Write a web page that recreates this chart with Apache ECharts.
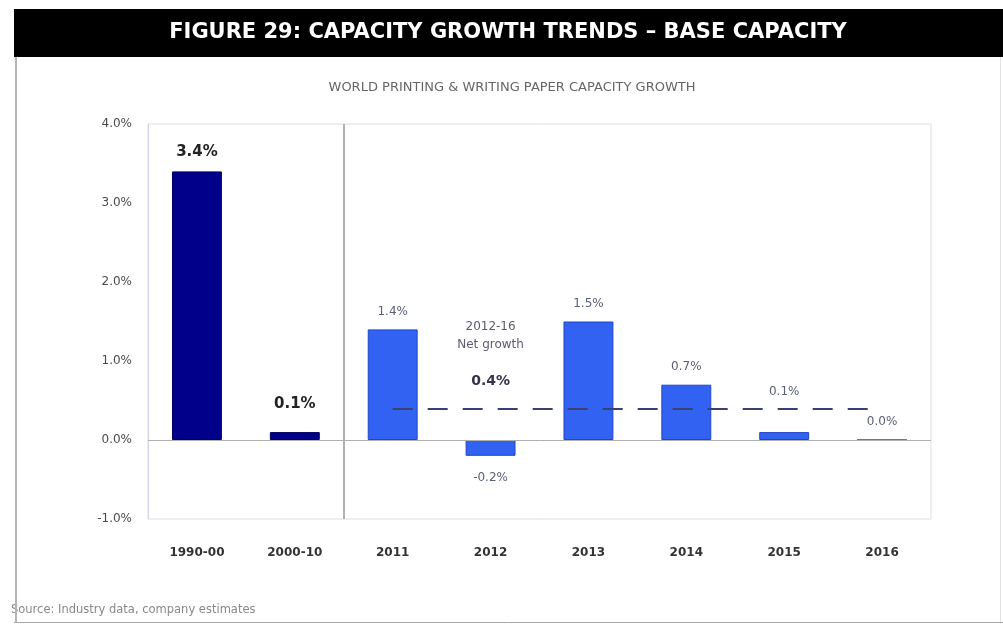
<!DOCTYPE html>
<html>
<head>
<meta charset="utf-8">
<script src="https://cdn.jsdelivr.net/npm/echarts@6/dist/echarts.min.js"></script>
<style>
  html, body { margin: 0; padding: 0; background: #ffffff; }
  #chart { width: 1003px; height: 624px; }
</style>
</head>
<body>
<div id="chart"></div>
<script>
// Annual capacity growth, % per year
const categories = ['1990-00', '2000-10', '2011', '2012', '2013', '2014', '2015', '2016'];
const growth = [3.4, 0.1, 1.4, -0.2, 1.5, 0.7, 0.1, 0.0];
const historicalCount = 2;           // first two bars are period averages

// Average net growth over the forecast years
const netGrowth = 0.4;
const netGrowthFrom = '2011';
const netGrowthTo = '2016';
const netGrowthNote = ['2012-16', 'Net growth'];

// Value axis
const axisMin = -1;
const axisMax = 4;
const axisStep = 1;

const titleText = 'FIGURE 29: CAPACITY GROWTH TRENDS \u2013 BASE CAPACITY';
const subtitleText = 'WORLD PRINTING & WRITING PAPER CAPACITY GROWTH';
const sourceText = 'Source: Industry data, company estimates';

const NAVY = '#00008a';
const BLUE = '#3162f2';
const FONT = 'DejaVu Sans, Verdana, sans-serif';
const pct = v => v.toFixed(1) + '%';

// extra lift for a few value labels so they clear the average line
const labelLift = { '2000-10': 8, '2015': 22 };

const barData = growth.map((v, i) => {
  const hist = i < historicalCount;
  const lift = labelLift[categories[i]] || 0;
  return {
    value: v,
    itemStyle: { color: hist ? NAVY : BLUE, borderColor: hist ? '#000060' : '#2244c8', borderWidth: 1 },
    label: {
      show: true,
      position: v < 0 ? 'bottom' : 'top',
      distance: v < 0 ? 16 : 12 + lift,
      formatter: p => pct(p.value),
      fontFamily: FONT,
      fontSize: hist ? 15 : 12,
      fontWeight: hist ? 'bold' : 'normal',
      color: hist ? '#222' : '#5a5f78'
    }
  };
});

const chart = echarts.init(document.getElementById('chart'), null, { renderer: 'canvas' });

chart.setOption({
  animation: false,
  backgroundColor: '#ffffff',
  textStyle: { fontFamily: FONT },
  grid: {
    left: 148, right: 72, top: 124, bottom: 105,
    show: true, borderColor: '#dedede', borderWidth: 1, backgroundColor: 'transparent'
  },
  xAxis: [
    {
      type: 'category',
      data: categories,
      axisLine: { show: false, onZero: false },
      axisTick: { show: false },
      axisLabel: { margin: 28, fontFamily: FONT, fontSize: 12, fontWeight: 'bold', color: '#333' },
      splitLine: { show: false }
    },
    {
      // hidden band-index axis, used to place the divider between history and forecast
      type: 'value',
      min: 0, max: categories.length,
      show: false
    }
  ],
  yAxis: {
    type: 'value',
    min: axisMin, max: axisMax, interval: axisStep,
    axisLine: { show: true, lineStyle: { color: '#d4d4e4' } },
    axisTick: { show: false },
    splitLine: { show: false },
    axisLabel: { margin: 16, formatter: v => pct(v), fontFamily: FONT, fontSize: 12, color: '#4a4a4a' }
  },
  series: [
    {
      type: 'bar',
      data: barData,
      barWidth: '51%',
      markLine: {
        silent: true,
        symbol: 'none',
        label: { show: false },
        data: [
          { yAxis: 0, lineStyle: { color: '#b0b0b0', width: 1, type: 'solid' } },
          [
            { coord: [netGrowthFrom, netGrowth], lineStyle: { color: '#3b3f72', width: 2, type: [20, 15] } },
            { coord: [netGrowthTo, netGrowth] }
          ]
        ]
      },
      markPoint: {
        silent: true,
        symbol: 'circle',
        symbolSize: 1,
        itemStyle: { color: 'rgba(0,0,0,0)' },
        data: [{
          coord: ['2012', netGrowth],
          label: {
            show: true,
            position: 'top',
            distance: 18,
            formatter: '{a|' + netGrowthNote[0] + '}\n{a|' + netGrowthNote[1] + '}\n{gap| }\n{v|' + pct(netGrowth) + '}',
            rich: {
              a: { fontFamily: FONT, fontSize: 12, color: '#5c5c6c', lineHeight: 18, align: 'center' },
              gap: { fontSize: 10, lineHeight: 18 },
              v: { fontFamily: FONT, fontSize: 14, fontWeight: 'bold', color: '#33334a', lineHeight: 18, align: 'center' }
            }
          }
        }]
      }
    },
    {
      // divider between historical averages and annual forecast
      type: 'line',
      xAxisIndex: 1,
      data: [],
      markLine: {
        silent: true,
        symbol: 'none',
        label: { show: false },
        lineStyle: { color: '#b0b0b0', width: 2, type: 'solid' },
        data: [{ xAxis: historicalCount }]
      }
    }
  ],
  graphic: [
    { type: 'rect', left: 14, top: 9, shape: { width: 989, height: 48 }, style: { fill: '#000000' } },
    {
      type: 'text', x: 508, y: 33,
      style: { text: titleText, fill: '#ffffff', font: 'bold 21px ' + FONT, textAlign: 'center', textVerticalAlign: 'middle' }
    },
    {
      type: 'text', x: 512, y: 88,
      style: { text: subtitleText, fill: '#666666', font: '13px ' + FONT, textAlign: 'center', textVerticalAlign: 'middle' }
    },
    {
      type: 'text', x: 11, y: 610,
      style: { text: sourceText, fill: '#888888', font: '11.5px ' + FONT, textAlign: 'left', textVerticalAlign: 'middle' }
    },
    { type: 'line', shape: { x1: 16, y1: 57, x2: 16, y2: 622 }, style: { stroke: '#b5b5b5', lineWidth: 2 } },
    { type: 'line', shape: { x1: 14, y1: 622.5, x2: 1003, y2: 622.5 }, style: { stroke: '#a8a8a8', lineWidth: 1 } },
    { type: 'line', shape: { x1: 1000.5, y1: 57, x2: 1000.5, y2: 622 }, style: { stroke: '#e2e2e2', lineWidth: 1 } }
  ]
});
</script>
</body>
</html>
